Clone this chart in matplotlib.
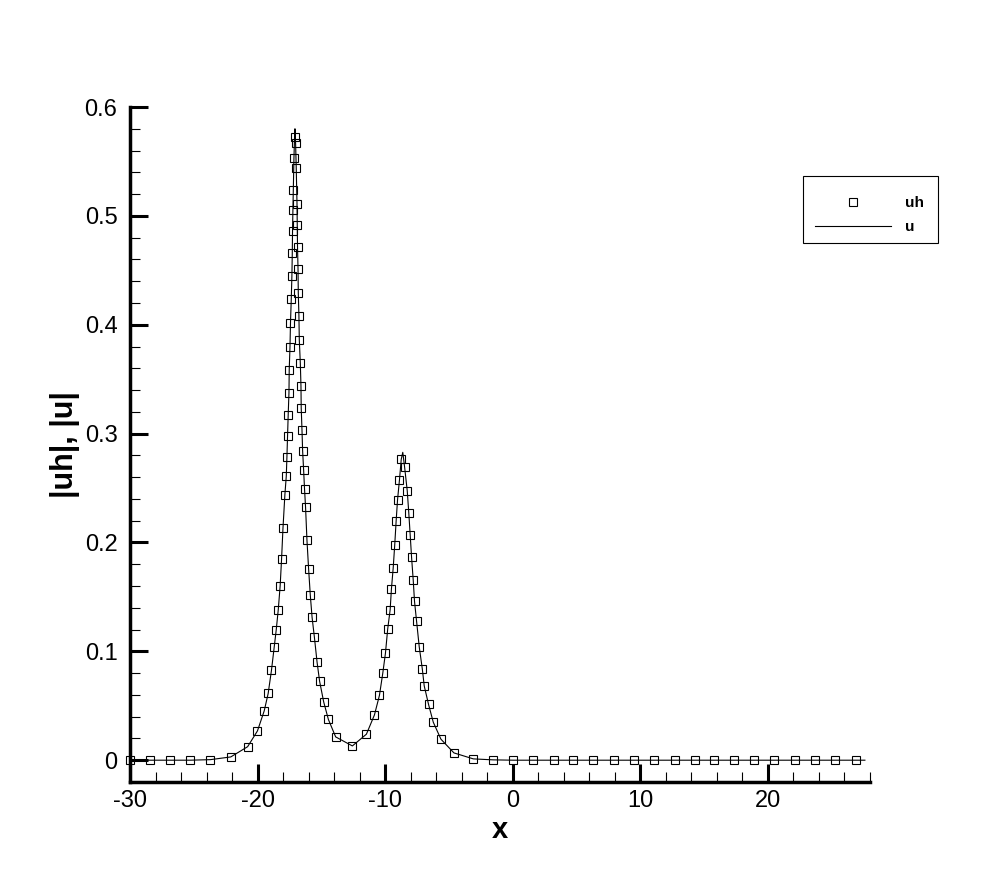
import matplotlib
matplotlib.use("Agg")
import matplotlib.pyplot as plt
from matplotlib.patches import Rectangle
from matplotlib.ticker import MultipleLocator, FuncFormatter

plt.rcParams['font.family'] = ['Liberation Sans', 'DejaVu Sans']
plt.rcParams['axes.unicode_minus'] = False

# numerical solution |uh| at the (moving) mesh nodes
uh_x = [-30.0, -28.44, -26.87, -25.29, -23.70, -22.10, -20.78, -20.01, -19.48, -19.17,
        -18.91, -18.70, -18.54, -18.38, -18.23, -18.12, -18.01, -17.86, -17.75, -17.70,
        -17.65, -17.60, -17.54, -17.52, -17.46, -17.42, -17.36, -17.31, -17.28, -17.26,
        -17.23, -17.20, -17.15, -17.10,
        -17.02, -16.97, -16.91, -16.89, -16.87, -16.83, -16.81, -16.76, -16.73, -16.65,
        -16.60, -16.58, -16.52, -16.47, -16.39, -16.32, -16.24, -16.13, -16.00, -15.87,
        -15.73, -15.55, -15.34, -15.14, -14.82, -14.45, -13.88, -12.57, -11.47, -10.84,
        -10.45, -10.19, -9.98, -9.80, -9.61, -9.51, -9.37, -9.25, -9.14, -9.03,
        -8.88, -8.74,
        -8.48, -8.27, -8.15, -8.04, -7.93, -7.80, -7.70, -7.54, -7.33, -7.09,
        -6.94, -6.60, -6.23, -5.63, -4.61, -3.09, -1.53, 0.05, 1.62, 3.20,
        4.75, 6.30, 7.90, 9.50, 11.10, 12.70, 14.25, 15.80, 17.35, 18.90,
        20.50, 22.10, 23.70, 25.25, 26.90]
uh_y = [0.0, 0.0, 0.0, 0.0, 0.0005, 0.003, 0.0124, 0.0269, 0.0453, 0.0613,
        0.0827, 0.1036, 0.1195, 0.1381, 0.1602, 0.1847, 0.2130, 0.2438, 0.2610, 0.2785,
        0.2981, 0.3174, 0.3376, 0.3587, 0.3796, 0.4019, 0.4234, 0.4449, 0.4657, 0.4862,
        0.5058, 0.5236, 0.5530, 0.5729,
        0.5665, 0.5438, 0.5113, 0.4917, 0.4718, 0.4513, 0.4295, 0.4084, 0.3860, 0.3646,
        0.3440, 0.3235, 0.3036, 0.2843, 0.2663, 0.2491, 0.2325, 0.2022, 0.1756, 0.1519,
        0.1314, 0.1133, 0.0903, 0.0726, 0.0536, 0.0374, 0.0214, 0.0131, 0.0239, 0.0416,
        0.0595, 0.0797, 0.0981, 0.1207, 0.1381, 0.1572, 0.1767, 0.1979, 0.2197, 0.2392,
        0.2574, 0.2764,
        0.2696, 0.2475, 0.2273, 0.2071, 0.1863, 0.1652, 0.1459, 0.1278, 0.1041, 0.0839,
        0.0683, 0.0512, 0.0349, 0.0193, 0.0067, 0.0012, 0.0003, 0.0, 0.0, 0.0,
        0.0, 0.0, 0.0, 0.0, 0.0, 0.0, 0.0, 0.0, 0.0, 0.0,
        0.0, 0.0, 0.0, 0.0, 0.0]

# exact solution |u|: same nodes plus the two peak tips and the right end
peak_x = [-17.07, -8.62, 27.6]
peak_y = [0.580, 0.2828, 0.0]
u_pts = sorted(zip(uh_x + peak_x, uh_y + peak_y))
u_x = [p[0] for p in u_pts]
u_y = [p[1] for p in u_pts]

W, H = 990, 880
fig = plt.figure(figsize=(W / 100, H / 100), dpi=100)
ax = fig.add_axes([0.1313, 0.1114, 0.7475, 0.767])

ax.plot(uh_x, uh_y, linestyle='none', marker='s', markersize=5.5,
        markerfacecolor='none', markeredgecolor='black', markeredgewidth=0.8,
        label='uh', clip_on=False, zorder=3)
ax.plot(u_x, u_y, color='black', linewidth=0.8, label='u', zorder=2)

ax.set_xlim(-30, 28)
ax.set_ylim(-0.02, 0.6)
ax.xaxis.set_major_locator(MultipleLocator(10))
ax.xaxis.set_minor_locator(MultipleLocator(2))
ax.yaxis.set_major_locator(MultipleLocator(0.1))
ax.yaxis.set_minor_locator(MultipleLocator(0.02))
ax.xaxis.set_major_formatter(FuncFormatter(lambda v, p: '%g' % round(v, 6)))
ax.yaxis.set_major_formatter(FuncFormatter(lambda v, p: '%g' % round(v, 6)))

for s in ['top', 'right']:
    ax.spines[s].set_visible(False)
for s in ['left', 'bottom']:
    ax.spines[s].set_linewidth(2.5)

ax.tick_params(which='major', direction='in', length=13, width=2.2, labelsize=17)
ax.tick_params(which='minor', direction='in', length=7.5, width=0.8)
ax.tick_params(axis='x', which='major', pad=6)
ax.tick_params(axis='y', which='major', pad=9)

ax.set_xlabel('x', fontsize=21, fontweight='bold', labelpad=3)
ax.set_ylabel('|uh|, |u|', fontsize=22, fontweight='bold', labelpad=3)

# legend without its own frame, plus a plain box like the original
leg = ax.legend(loc='upper left', bbox_to_anchor=(815 / W, 1 - 196 / H),
                bbox_transform=fig.transFigure, frameon=False,
                prop={'weight': 'bold', 'size': 11}, handlelength=5.0,
                borderpad=0, borderaxespad=0, labelspacing=0.68,
                handletextpad=0.9)
fig.patches.append(Rectangle((803 / W, 1 - 243 / H), 135 / W, 67 / H,
                             transform=fig.transFigure, fill=False,
                             edgecolor='black', linewidth=0.8))

fig.savefig('out.png', dpi=100)
